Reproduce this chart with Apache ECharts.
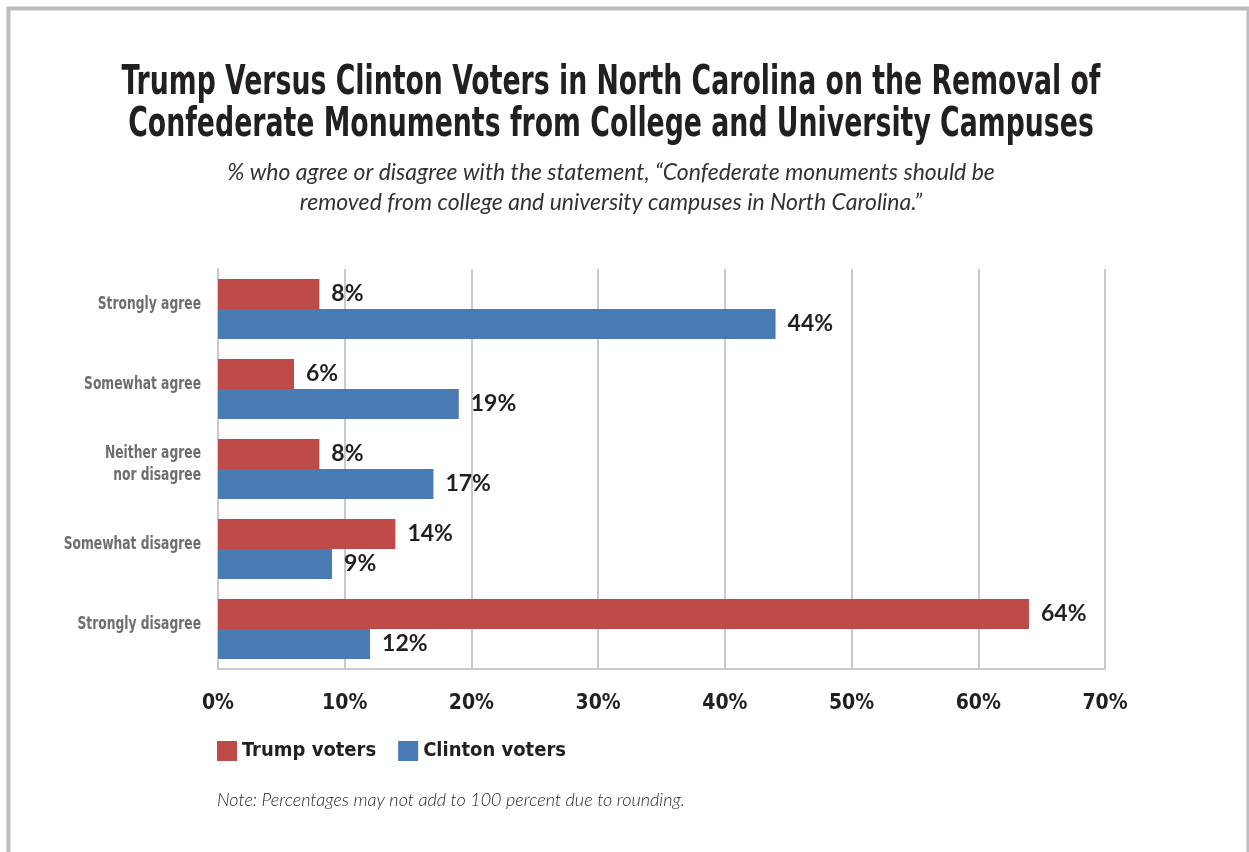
<!DOCTYPE html>
<html>
<head>
<meta charset="utf-8">
<script src="https://cdn.jsdelivr.net/npm/echarts@6/dist/echarts.min.js"></script>
<style>
  html, body { margin: 0; padding: 0; background: #ffffff; }
  #chart { width: 1249px; height: 852px; }
</style>
</head>
<body>
<div id="chart"></div>
<script>
// Survey responses, top to bottom
const categories = [
  'Strongly agree',
  'Somewhat agree',
  'Neither agree\nnor disagree',
  'Somewhat disagree',
  'Strongly disagree'
];
const trumpVoters = [8, 6, 8, 14, 64];
const clintonVoters = [44, 19, 17, 9, 12];
const xTicks = [0, 10, 20, 30, 40, 50, 60, 70];

const RED = '#be4b48';
const BLUE = '#4a7ab4';
const GRID = '#c9c9cd';
const INK = '#231f20';
const CONDENSED = '"DejaVu Sans Condensed", "DejaVu Sans", sans-serif';
const LABEL_FONT = 'Lato, "Open Sans", sans-serif';
const ITALIC_FONT = 'Lato, "Noto Sans", sans-serif';
// horizontal squeeze that gives the condensed look of the headings
const TITLE_SQUEEZE = 0.725;
const CAT_SQUEEZE = 0.76;

const chart = echarts.init(document.getElementById('chart'), null, { renderer: 'canvas' });

const valueLabel = {
  show: true,
  position: 'right',
  distance: 12,
  formatter: p => p.value + '%',
  fontFamily: LABEL_FONT,
  fontWeight: 'bold',
  fontSize: 23,
  color: INK
};

const staticGraphics = [
  {
    id: 'frame',
    type: 'rect',
    shape: { x: 8.5, y: 8.5, width: 1240, height: 900 },
    style: { fill: 'none', stroke: '#bdbdc1', lineWidth: 4 },
    silent: true
  },
  {
    id: 'title',
    type: 'text',
    x: 611, y: 62,
    scaleX: TITLE_SQUEEZE,
    style: {
      text: 'Trump Versus Clinton Voters in North Carolina on the Removal of\nConfederate Monuments from College and University Campuses',
      textAlign: 'center',
      font: 'bold 41px ' + CONDENSED,
      lineHeight: 42,
      fill: INK
    }
  },
  {
    id: 'subtitle',
    type: 'text',
    x: 611, y: 158,
    style: {
      text: '% who agree or disagree with the statement, \u201cConfederate monuments should be\nremoved from college and university campuses in North Carolina.\u201d',
      textAlign: 'center',
      font: 'italic 400 23px ' + ITALIC_FONT,
      lineHeight: 30,
      fill: '#333333'
    }
  },
  {
    id: 'note',
    type: 'text',
    x: 217, y: 791,
    style: {
      text: 'Note: Percentages may not add to 100 percent due to rounding.',
      font: 'italic 300 18px ' + ITALIC_FONT,
      fill: INK
    }
  }
];

chart.setOption({
  animation: false,
  backgroundColor: '#ffffff',
  graphic: staticGraphics,
  legend: {
    left: 212,
    top: 736,
    icon: 'rect',
    itemWidth: 20,
    itemHeight: 20,
    itemGap: 22,
    textStyle: {
      fontFamily: CONDENSED,
      fontWeight: 'bold',
      fontSize: 20,
      color: INK
    },
    data: ['Trump voters', 'Clinton voters']
  },
  grid: {
    left: 218,
    top: 269,
    width: 887,
    height: 400,
    containLabel: false
  },
  xAxis: {
    type: 'value',
    min: xTicks[0],
    max: xTicks[xTicks.length - 1],
    interval: 10,
    axisLine: { show: true, lineStyle: { color: GRID, width: 2 } },
    axisTick: { show: false },
    splitLine: { show: true, lineStyle: { color: GRID, width: 2 } },
    axisLabel: {
      margin: 24,
      formatter: v => v + '%',
      fontFamily: CONDENSED,
      fontWeight: 'bold',
      fontSize: 21,
      color: INK
    }
  },
  yAxis: {
    type: 'category',
    inverse: true,
    data: categories,
    axisLine: { show: true, lineStyle: { color: GRID, width: 2 } },
    axisTick: { show: false },
    axisLabel: { show: false }
  },
  series: [
    {
      name: 'Trump voters',
      type: 'bar',
      data: trumpVoters,
      barWidth: 30,
      barGap: '0%',
      itemStyle: { color: RED },
      label: valueLabel
    },
    {
      name: 'Clinton voters',
      type: 'bar',
      data: clintonVoters,
      barWidth: 30,
      barGap: '0%',
      itemStyle: { color: BLUE },
      label: valueLabel
    }
  ]
});

// Category names, placed from the category axis and squeezed like the headings
const axisLeft = chart.convertToPixel({ xAxisIndex: 0 }, 0);
const categoryLabels = categories.map((name, i) => ({
  id: 'cat' + i,
  type: 'text',
  x: axisLeft - 17,
  y: chart.convertToPixel({ yAxisIndex: 0 }, i) - 5,
  scaleX: CAT_SQUEEZE,
  style: {
    text: name,
    textAlign: 'right',
    textVerticalAlign: 'middle',
    font: 'bold 18px ' + CONDENSED,
    lineHeight: 22,
    fill: '#6d6e71'
  }
}));

chart.setOption({ graphic: staticGraphics.concat(categoryLabels) });
</script>
</body>
</html>
